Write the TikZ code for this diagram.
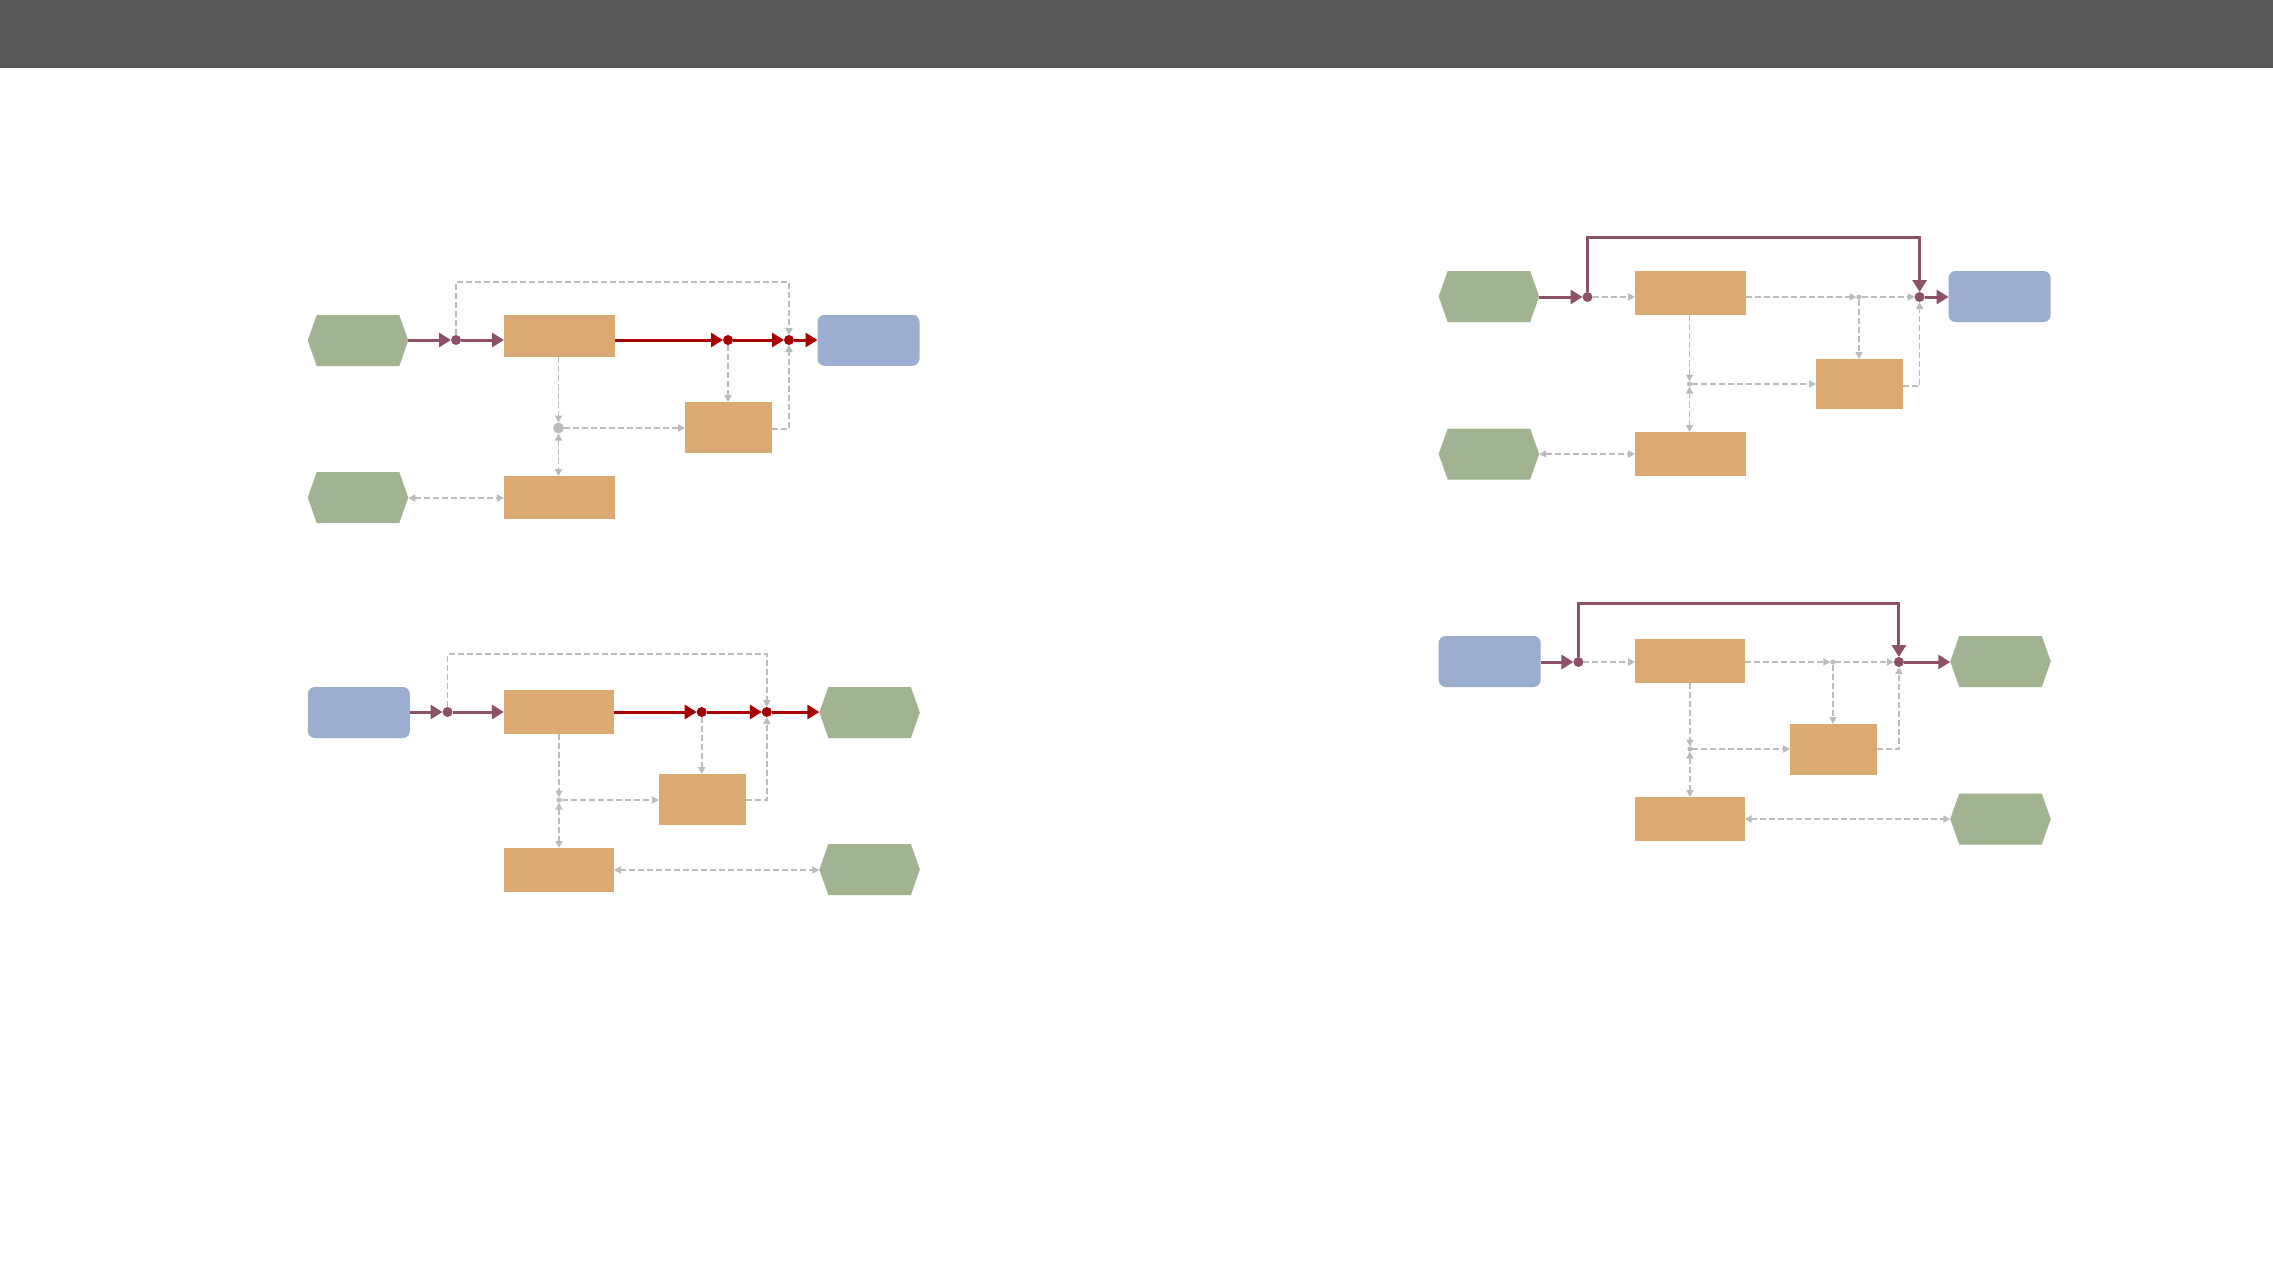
\documentclass[tikz,border=0pt]{standalone}
\usetikzlibrary{arrows.meta}
\definecolor{hexg}{HTML}{A2B392}
\definecolor{boxo}{HTML}{DBAA72}
\definecolor{boxb}{HTML}{9BAED0}
\definecolor{purp}{HTML}{8C5069}
\definecolor{redl}{HTML}{A80000}
\definecolor{grayl}{HTML}{BBBBBB}
\definecolor{barc}{HTML}{575757}
\tikzset{
  every node/.style={inner sep=0pt, outer sep=0pt},
  obox/.style={rectangle, fill=boxo},
  bbox/.style={rectangle, rounded corners=7pt, fill=boxb, minimum width=102pt, minimum height=51pt},
  hexn/.style={rectangle, minimum width=100.5pt, minimum height=51pt,
    path picture={\fill[hexg] (path picture bounding box.west)
      -- ([xshift=9pt]path picture bounding box.north west)
      -- ([xshift=-9pt]path picture bounding box.north east)
      -- (path picture bounding box.east)
      -- ([xshift=-9pt]path picture bounding box.south east)
      -- ([xshift=9pt]path picture bounding box.south west) -- cycle;}},
  pdot/.style={circle, fill=purp, minimum size=10pt},
  rdot/.style={circle, fill=redl, minimum size=10pt},
  gdot/.style={circle, fill=grayl, minimum size=#1},
  pline/.style={draw=purp, line width=3pt},
  rline/.style={draw=redl, line width=3pt},
  parr/.style={-{Triangle[length=12pt,width=14pt]}},
  gline/.style={draw=grayl, line width=1.7pt, dash pattern=on 6pt off 3pt},
  garr/.style={-{Triangle[length=7pt,width=7pt]}},
  garrb/.style={{Triangle[length=7pt,width=7pt]}-{Triangle[length=7pt,width=7pt]}},
}
\begin{document}
\begin{tikzpicture}[x=1pt,y=-1pt]
\useasboundingbox (0,0) rectangle (2273,1276);
\fill[white] (0,0) rectangle (2273,1276);
\fill[barc] (0,0) rectangle (2273,68);

% ---------- Diagram 1 ----------
\node[hexn] (g1a) at (358,340.5) {};
\node[obox, minimum width=110.7pt, minimum height=42.5pt] (b1a) at (559.3,336.2) {};
\node[bbox] (bl1a) at (868.5,340.3) {};
\node[obox, minimum width=86.7pt, minimum height=51pt] (b2a) at (728.5,427.5) {};
\node[obox, minimum width=110.7pt, minimum height=43pt] (b3a) at (559.3,497.5) {};
\node[hexn] (g2a) at (358,497.5) {};
\node[pdot] (d0a) at (456,340) {};
\node[rdot] (r1a) at (728,340) {};
\node[rdot] (r2a) at (789,340) {};
\node[gdot=11pt] (s1a) at (558.5,428) {};
\draw[pline,parr] (g1a.east |- d0a) -- (d0a.west);
\draw[pline,parr] (d0a.east) -- (b1a.west |- d0a);
\draw[rline,parr] (b1a.east |- r1a) -- (r1a.west);
\draw[rline,parr] (r1a.east) -- (r2a.west);
\draw[rline,parr] (r2a.east) -- (bl1a.west |- r2a);
\draw[gline,garr] (d0a.north) -- (d0a |- 0,282) -| (r2a.north);
\draw[gline,garr] (r1a.south) -- (b2a.north -| r1a);
\draw[gline,garr] (b2a.east |- 0,429) -| (r2a.south);
\draw[gline,garr] (b1a.south -| s1a) -- (s1a.north);
\draw[gline,garr] (s1a.east) -- (b2a.west |- s1a);
\draw[gline,garrb] (s1a.south) -- (b3a.north -| s1a);
\draw[gline,garrb] (g2a.east |- 0,498) -- (b3a.west |- 0,498);

% ---------- Diagram 2 ----------
\node[bbox] (bl2b) at (358.8,712.5) {};
\node[obox, minimum width=110pt, minimum height=44pt] (b1b) at (558.9,712) {};
\node[hexn] (g1b) at (869.6,712.5) {};
\node[obox, minimum width=87pt, minimum height=51pt] (b2b) at (702.5,799.5) {};
\node[obox, minimum width=110pt, minimum height=44pt] (b3b) at (558.9,870) {};
\node[hexn] (g2b) at (869.6,869.5) {};
\node[pdot] (d0b) at (447.5,712) {};
\node[rdot] (r1b) at (701.7,712) {};
\node[rdot] (r2b) at (766.8,712) {};
\node[gdot=5pt] (s1b) at (559,800) {};
\draw[pline,parr] (bl2b.east |- d0b) -- (d0b.west);
\draw[pline,parr] (d0b.east) -- (b1b.west |- d0b);
\draw[rline,parr] (b1b.east |- r1b) -- (r1b.west);
\draw[rline,parr] (r1b.east) -- (r2b.west);
\draw[rline,parr] (r2b.east) -- (g1b.west |- r2b);
\draw[gline,garr] (d0b.north) -- (d0b |- 0,654) -| (r2b.north);
\draw[gline,garr] (r1b.south) -- (b2b.north -| r1b);
\draw[gline,garr] (b2b.east |- 0,800) -| (r2b.south);
\draw[gline,garr] (b1b.south -| s1b) -- (s1b.north);
\draw[gline,garr] (s1b.east) -- (b2b.west |- s1b);
\draw[gline,garrb] (s1b.south) -- (b3b.north -| s1b);
\draw[gline,garrb] (b3b.east |- 0,870) -- (g2b.west |- 0,870);

% ---------- Diagram 3 ----------
\node[hexn] (g1c) at (1488.9,296.5) {};
\node[obox, minimum width=110.7pt, minimum height=44pt] (b1c) at (1690.5,293) {};
\node[bbox] (bl3c) at (1999.6,296.5) {};
\node[obox, minimum width=87pt, minimum height=50pt] (b2c) at (1859.5,384) {};
\node[obox, minimum width=110.7pt, minimum height=44pt] (b3c) at (1690.5,454) {};
\node[hexn] (g2c) at (1488.9,454) {};
\node[pdot] (d0c) at (1587.5,297) {};
\node[pdot] (d1c) at (1919.6,297) {};
\node[gdot=5pt] (s2c) at (1859,297) {};
\node[gdot=5pt] (s1c) at (1689.5,384) {};
\draw[pline,parr] (g1c.east |- d0c) -- (d0c.west);
\draw[pline,parr] (d0c.north) -- (d0c |- 0,238) -| (d1c.north);
\draw[pline,parr] (d1c.east) -- (bl3c.west |- d1c);
\draw[gline,garr] (d0c.east) -- (b1c.west |- d0c);
\draw[gline,garr] (b1c.east |- s2c) -- (s2c.west);
\draw[gline,garr] (s2c.east) -- (d1c.west);
\draw[gline,garr] (s2c.south) -- (b2c.north -| s2c);
\draw[gline,garr] (b2c.east |- 0,386) -| (d1c.south);
\draw[gline,garr] (b1c.south -| s1c) -- (s1c.north);
\draw[gline,garr] (s1c.east) -- (b2c.west |- s1c);
\draw[gline,garrb] (s1c.south) -- (b3c.north -| s1c);
\draw[gline,garrb] (g2c.east |- 0,454) -- (b3c.west |- 0,454);

% ---------- Diagram 4 ----------
\node[bbox] (bl4d) at (1489.7,661.5) {};
\node[obox, minimum width=109.4pt, minimum height=44pt] (b1d) at (1689.9,661) {};
\node[hexn] (g1d) at (2000.5,661.5) {};
\node[obox, minimum width=86.7pt, minimum height=51pt] (b2d) at (1833.5,749.5) {};
\node[obox, minimum width=109.4pt, minimum height=44pt] (b3d) at (1689.9,819) {};
\node[hexn] (g2d) at (2000.5,819) {};
\node[pdot] (d0d) at (1578.4,662) {};
\node[pdot] (d1d) at (1898.9,662) {};
\node[gdot=5pt] (s2d) at (1832.9,662) {};
\node[gdot=5pt] (s1d) at (1689.9,749) {};
\draw[pline,parr] (bl4d.east |- d0d) -- (d0d.west);
\draw[pline,parr] (d0d.north) -- (d0d |- 0,603) -| (d1d.north);
\draw[pline,parr] (d1d.east) -- (g1d.west |- d1d);
\draw[gline,garr] (d0d.east) -- (b1d.west |- d0d);
\draw[gline,garr] (b1d.east |- s2d) -- (s2d.west);
\draw[gline,garr] (s2d.east) -- (d1d.west);
\draw[gline,garr] (s2d.south) -- (b2d.north -| s2d);
\draw[gline,garr] (b2d.east |- 0,749) -| (d1d.south);
\draw[gline,garr] (b1d.south -| s1d) -- (s1d.north);
\draw[gline,garr] (s1d.east) -- (b2d.west |- s1d);
\draw[gline,garrb] (s1d.south) -- (b3d.north -| s1d);
\draw[gline,garrb] (b3d.east |- 0,819) -- (g2d.west |- 0,819);
\end{tikzpicture}
\end{document}
